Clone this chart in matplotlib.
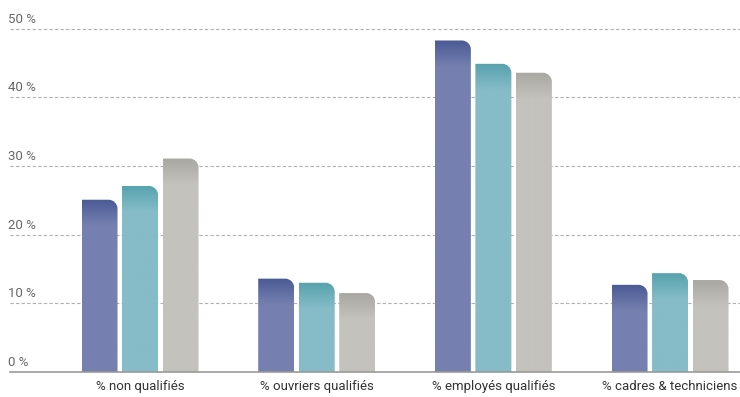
import matplotlib
matplotlib.use("Agg")
import matplotlib.pyplot as plt
import numpy as np
from matplotlib.path import Path
from matplotlib.patches import PathPatch
from matplotlib.colors import to_rgb

# data
categories = ["% non qualifiés", "% ouvriers qualifiés", "% employés qualifiés", "% cadres & techniciens"]
serie_a = [25.1, 13.6, 48.3, 12.7]
serie_b = [27.1, 13.0, 44.9, 14.4]
serie_c = [31.1, 11.5, 43.6, 13.4]
y_ticks = [0, 10, 20, 30, 40, 50]
y_tick_labels = ["0 %", "10 %", "20 %", "30 %", "40 %", "50 %"]

body_colors = ["#7580b0", "#85bcc8", "#c3c2bd"]
top_colors = ["#4a5a94", "#56a2ad", "#a8a7a1"]

font = ["Roboto", "DejaVu Sans"]

fig = plt.figure(figsize=(7.4, 3.97), dpi=100)
ax = fig.add_axes([10 / 740, 25 / 397, 730 / 740, 372 / 397])
ax.set_xlim(-0.736, 3.396)
ax.set_ylim(0, 54.2)
for s in ax.spines.values():
    s.set_visible(False)
ax.set_xticks([])
ax.set_yticks([])

# px -> data conversions
px_x = (3.396 + 0.736) / 730
px_y = 54.2 / 372

# grid
for t, lab in zip(y_ticks, y_tick_labels):
    if t > 0:
        ax.axhline(t, color="#b0b0b0", lw=0.8, ls=(0, (3, 2)), zorder=0)
    else:
        ax.axhline(0, color="#999999", lw=1.2, zorder=3, clip_on=False)
    ax.text(-0.736 - 2 * px_x, t + 3 * px_y, lab, ha="left", va="bottom",
            fontsize=9.5, color="#666666", family=font)

width = 36 * px_x
offset = 40.5 * px_x
r_x = 9 * px_x
r_y = 9 * px_y
grad_h = 26 * px_y
k = 0.5523


def bar_path(x0, w, h):
    x1 = x0 + w
    verts = [(x0, 0), (x0, h), (x1 - r_x, h),
             (x1 - r_x + k * r_x, h), (x1, h - r_y + k * r_y), (x1, h - r_y),
             (x1, 0), (x0, 0)]
    codes = [Path.MOVETO, Path.LINETO, Path.LINETO,
             Path.CURVE4, Path.CURVE4, Path.CURVE4,
             Path.LINETO, Path.CLOSEPOLY]
    return Path(verts, codes)


series = [serie_a, serie_b, serie_c]
for si, vals in enumerate(series):
    c_body = np.array(to_rgb(body_colors[si]))
    c_top = np.array(to_rgb(top_colors[si]))
    for gi, v in enumerate(vals):
        x0 = gi + (si - 1) * offset - width / 2
        patch = PathPatch(bar_path(x0, width, v), facecolor="none", edgecolor="none")
        ax.add_patch(patch)
        n = 300
        ys = np.linspace(0, v, n)
        frac = np.clip((ys - (v - grad_h)) / grad_h, 0, 1)
        img = c_body[None, :] * (1 - frac[:, None]) + c_top[None, :] * frac[:, None]
        img = np.repeat(img[:, None, :], 2, axis=1)
        im = ax.imshow(img, origin="lower", extent=(x0, x0 + width, 0, v),
                       aspect="auto", interpolation="bilinear", zorder=2)
        im.set_clip_path(patch)

for gi, cat in enumerate(categories):
    ax.text(gi, -8 * px_y, cat, ha="center", va="top", fontsize=9.5,
            color="#333333", family=font)

ax.set_xlim(-0.736, 3.396)
ax.set_ylim(0, 54.2)
fig.savefig("out.png", dpi=100)
